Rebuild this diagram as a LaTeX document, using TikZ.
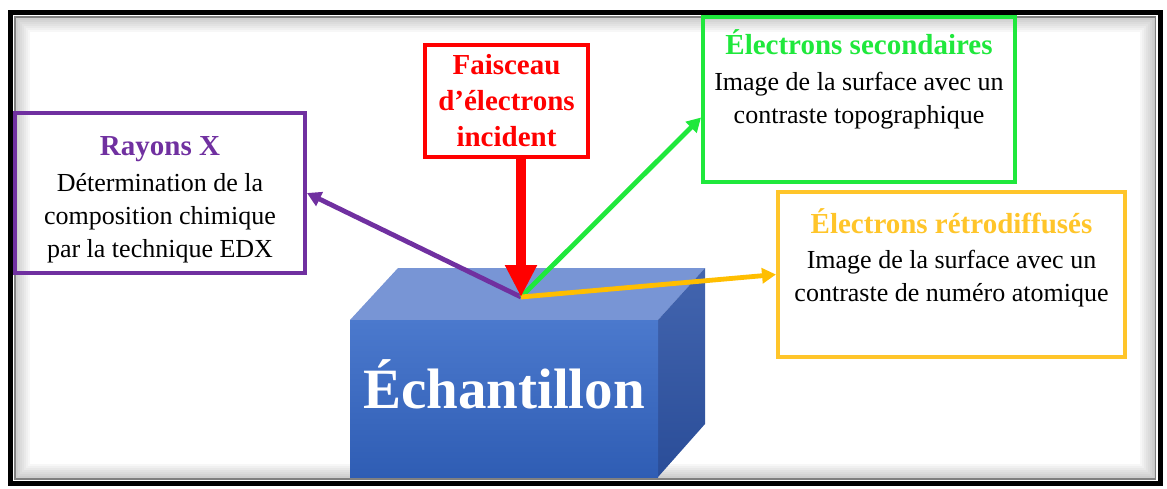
\documentclass[tikz,border=0pt]{standalone}
\usepackage{fontspec}
\setmainfont{Liberation Serif}
\usetikzlibrary{arrows.meta}
\definecolor{rxpurple}{HTML}{7030A0}
\definecolor{segreen}{HTML}{1FE83C}
\definecolor{bsyellow}{HTML}{FFC52A}
\definecolor{bsarrow}{HTML}{FFBE00}
\definecolor{cubetop}{HTML}{7895D5}
\definecolor{cubefronttop}{HTML}{4B79CD}
\definecolor{cubefrontbot}{HTML}{2F5DB4}
\definecolor{cubesidetop}{HTML}{4365AF}
\definecolor{cubesidebot}{HTML}{2A4D98}
\newcommand{\boxhead}{\fontsize{14.5}{18}\selectfont\bfseries}
\newcommand{\boxbody}{\fontsize{13}{16.5}\selectfont}

\begin{document}
\begin{tikzpicture}[x=0.5pt, y=-0.5pt, info box/.style={draw=#1, line width=2pt, inner sep=0pt}, ray/.style={-{Triangle[length=7pt,width=7.5pt]}, line width=2.4pt, draw=#1}]
        \tikzstyle{every node}=[font=\boxbody]
        \useasboundingbox (0,0) rectangle (1167,488);

          % frame with inner shadow
          \foreach \d [evaluate=\d as \op using 0.22-0.027*\d] in {0,...,7}
            \draw[line width=1pt, draw opacity=\op] (15+2*\d,17+2*\d) rectangle (1155-2*\d,479-2*\d);
          \draw[line width=2.5pt] (10.5,12.5) rectangle (1160,483.5);
          \draw[gray, line width=0.6pt] (15,17) rectangle (1155.5,479);

          % sample block
          \fill[cubetop] (350,320) -- (398,268) -- (705,268) -- (658,320) -- cycle;
          \shade[top color=cubesidetop, bottom color=cubesidebot] (658,320) -- (705,268) -- (705,424) -- (658,477) -- cycle;
          \shade[top color=cubefronttop, bottom color=cubefrontbot] (350,320) rectangle (658,477);
          \node[text=white, font=\fontsize{28.5}{30}\selectfont\bfseries, anchor=base] (5) at (504,408) {Échantillon};

          \node[info box=rxpurple] (1) at (160,193) {\parbox[c][80pt][t]{145pt}{\centering\rule{0pt}{21pt}{\boxhead\color{rxpurple}Rayons X}\\[1.5pt]Détermination de la\\composition chimique\\par la technique EDX}};
          \node[info box=red, minimum width=81.5pt, minimum height=56pt, align=center, text=red, font=\boxhead] (2) at (506.5,101) {Faisceau\\d’électrons\\incident};
          \node[info box=segreen] (3) at (859,99.5) {\parbox[c][82.5pt][t]{156pt}{\centering\rule{0pt}{18.5pt}{\boxhead\color{segreen}Électrons secondaires}\\[1.5pt]Image de la surface avec un\\contraste topographique}};
          \node[info box=bsyellow] (4) at (951.5,274.5) {\parbox[c][82.5pt][t]{173.5pt}{\centering\rule{0pt}{20.5pt}{\boxhead\color{bsyellow}Électrons rétrodiffusés}\\[1pt]Image de la surface avec un\\contraste de numéro atomique}};

          \coordinate (impact) at (521,297);
          \draw[ray=rxpurple] (impact) -- (1.east);
          \draw[ray=segreen] (impact) -- ([yshift=-9pt]3.west);
          \draw[ray=bsarrow] (impact) -- (4.west);
          \draw[red, line width=5pt, -{Triangle[length=16pt,width=15pt]}] (2.south -| impact) -- (impact);

        \end{tikzpicture}
\end{document}
